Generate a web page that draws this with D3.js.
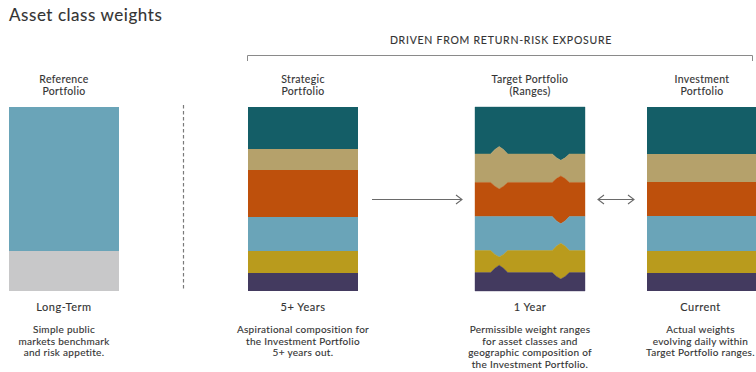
<!DOCTYPE html>
<html>
<head>
<meta charset="utf-8">
<script src="https://cdn.jsdelivr.net/npm/d3@7"></script>
<style>
  html, body { margin: 0; padding: 0; background: #fff; }
  svg { display: block; font-family: Lato, "Noto Sans", sans-serif; }
  text { stroke-linejoin: round; }
</style>
</head>
<body>
<svg id="chart" width="756" height="372"></svg>
<script>
// ---- data -------------------------------------------------------------
const columns = ["reference", "strategic", "target", "investment"];
const columnTitles = [["Reference", "Portfolio"], ["Strategic", "Portfolio"], ["Target Portfolio", "(Ranges)"], ["Investment", "Portfolio"]];
const horizons = ["Long-Term", "5+ Years", "1 Year", "Current"];
const descriptions = [
  ["Simple public", "markets benchmark", "and risk appetite."],
  ["Aspirational composition for", "the Investment Portfolio", "5+ years out."],
  ["Permissible weight ranges", "for asset classes and", "geographic composition of", "the Investment Portfolio."],
  ["Actual weights", "evolving daily within", "Target Portfolio ranges."]
];
const headline = "DRIVEN FROM RETURN-RISK EXPOSURE";

// weights in % of portfolio, top to bottom
const referenceWeights = [78, 22];
const strategicWeights = [23, 11, 26, 18.5, 11.5, 10];
const targetWeights = [25.5, 15.5, 18.5, 18.5, 12, 10];
const investmentWeights = [25.5, 15.5, 18.5, 18.5, 12, 10];
// permissible shift of each boundary between classes (percentage points),
// shown as two markers inside the target bar
const boundaryShiftLeft = [-4, 3.5, 0, 3.5, -4];
const boundaryShiftRight = [3.5, -3.5, 4, -4, 3.5];

// ---- layout -------------------------------------------------------------
const svg = d3.select("#chart");
const textColor = "#333333";
const classColors = ["#145e67", "#b5a16b", "#be500c", "#6aa4b8", "#b99b1d", "#433a5f"];
const referenceColors = ["#6aa4b8", "#c8c8c9"];

const barWidth = 110;
const x = d3.scaleOrdinal().domain(columns).range([9, 248, 475, 647]);
const y = d3.scaleLinear().domain([0, 100]).range([107, 291]);
// footer text of the last column sits slightly left of its bar centre (bar runs off the edge)
const footerNudge = [0, 0, 0, -1.5];

function label(sel, size, spacing) {
  return sel.attr("font-size", size).attr("letter-spacing", spacing)
    .attr("fill", textColor).attr("stroke", textColor).attr("stroke-width", 0.12);
}

// title
label(svg.append("text").attr("x", 9).attr("y", 21), 17, 0.55).text("Asset class weights");

// bracket over the three derived portfolios
svg.append("path")
  .attr("d", "M247.5,61V55.5H752.5V61")
  .attr("fill", "none").attr("stroke", "#8a8a8a").attr("stroke-width", 1);
label(svg.append("text").attr("x", 501).attr("y", 44).attr("text-anchor", "middle"), 10.5, 0.75)
  .text(headline);

// column headers and footers
columns.forEach((c, i) => {
  const cx = x(c) + barWidth / 2;
  const fx = cx + footerNudge[i];
  const head = label(svg.append("text").attr("text-anchor", "middle"), 10.5, 0.35);
  columnTitles[i].forEach((t, j) => head.append("tspan").attr("x", cx).attr("y", 83 + j * 12).text(t));

  label(svg.append("text").attr("x", fx).attr("y", 310.5).attr("text-anchor", "middle"), 11, 0.5)
    .text(horizons[i]);

  const desc = label(svg.append("text").attr("text-anchor", "middle"), 10, 0.3);
  descriptions[i].forEach((t, j) => desc.append("tspan").attr("x", fx).attr("y", 333 + j * 11.5).text(t));
});

// stacked bars
function cumulative(weights) {
  let acc = 0;
  return weights.map(w => { const s = acc; acc += w; return [s, acc]; });
}

function drawSimpleBar(col, weights, colors) {
  svg.append("g").selectAll("rect").data(cumulative(weights)).join("rect")
    .attr("x", x(col)).attr("width", barWidth)
    .attr("y", d => y(d[0])).attr("height", d => y(d[1]) - y(d[0]))
    .attr("fill", (d, i) => colors[i]).attr("shape-rendering", "crispEdges");
}

drawSimpleBar("reference", referenceWeights, referenceColors);
drawSimpleBar("strategic", strategicWeights, classColors);
drawSimpleBar("investment", investmentWeights, classColors);

// target bar: boundaries carry pointed markers at two positions across the bar
const markerL = 0.22, markerR = 0.78, halfW = 0.078;
const samples = [0,
  markerL - halfW, markerL - halfW / 2, markerL, markerL + halfW / 2, markerL + halfW,
  markerR - halfW, markerR - halfW / 2, markerR, markerR + halfW / 2, markerR + halfW, 1];
function profile(f, m) {
  const d = Math.abs(f - m) / halfW;
  if (d >= 1) return 0;
  return d <= 0.5 ? 1 - d * 0.8 : 0.6 * (1 - d) / 0.5;
}
const xt = d3.scaleLinear().domain([0, 1]).range([x("target"), x("target") + barWidth]);
const bounds = cumulative(targetWeights).map(d => d[1]);
function boundaryAt(k, f) {
  if (k < 0) return 0;
  if (k >= bounds.length - 1) return 100;
  return bounds[k] + boundaryShiftLeft[k] * profile(f, markerL) + boundaryShiftRight[k] * profile(f, markerR);
}
const area = d3.area().x(d => xt(d.f)).y0(d => y(d.top)).y1(d => y(d.bottom)).curve(d3.curveLinear);
svg.append("g").selectAll("path").data(targetWeights).join("path")
  .attr("d", (w, i) => area(samples.map(f => ({ f, top: boundaryAt(i - 1, f), bottom: boundaryAt(i, f) }))))
  .attr("fill", (d, i) => classColors[i])
  .attr("stroke", (d, i) => classColors[i]).attr("stroke-width", 0.4);

// divider between the reference portfolio and the rest
svg.append("line").attr("x1", 183.5).attr("x2", 183.5).attr("y1", 105).attr("y2", 291)
  .attr("stroke", "#7a7a7a").attr("stroke-width", 1.2).attr("stroke-dasharray", "3.5,2.5");

// arrows
const arrowColor = "#6a6a6a";
function chevron(tipX, tipY, dir) {
  return `M${tipX - dir * 6},${tipY - 4.5}L${tipX},${tipY}L${tipX - dir * 6},${tipY + 4.5}`;
}
const ay = 199.5;
svg.append("path").attr("d", `M372,${ay}H462` + chevron(462, ay, 1))
  .attr("fill", "none").attr("stroke", arrowColor).attr("stroke-width", 1.1);
svg.append("path").attr("d", `M598,${ay}H634` + chevron(634, ay, 1) + chevron(598, ay, -1))
  .attr("fill", "none").attr("stroke", arrowColor).attr("stroke-width", 1.1);
</script>
</body>
</html>
